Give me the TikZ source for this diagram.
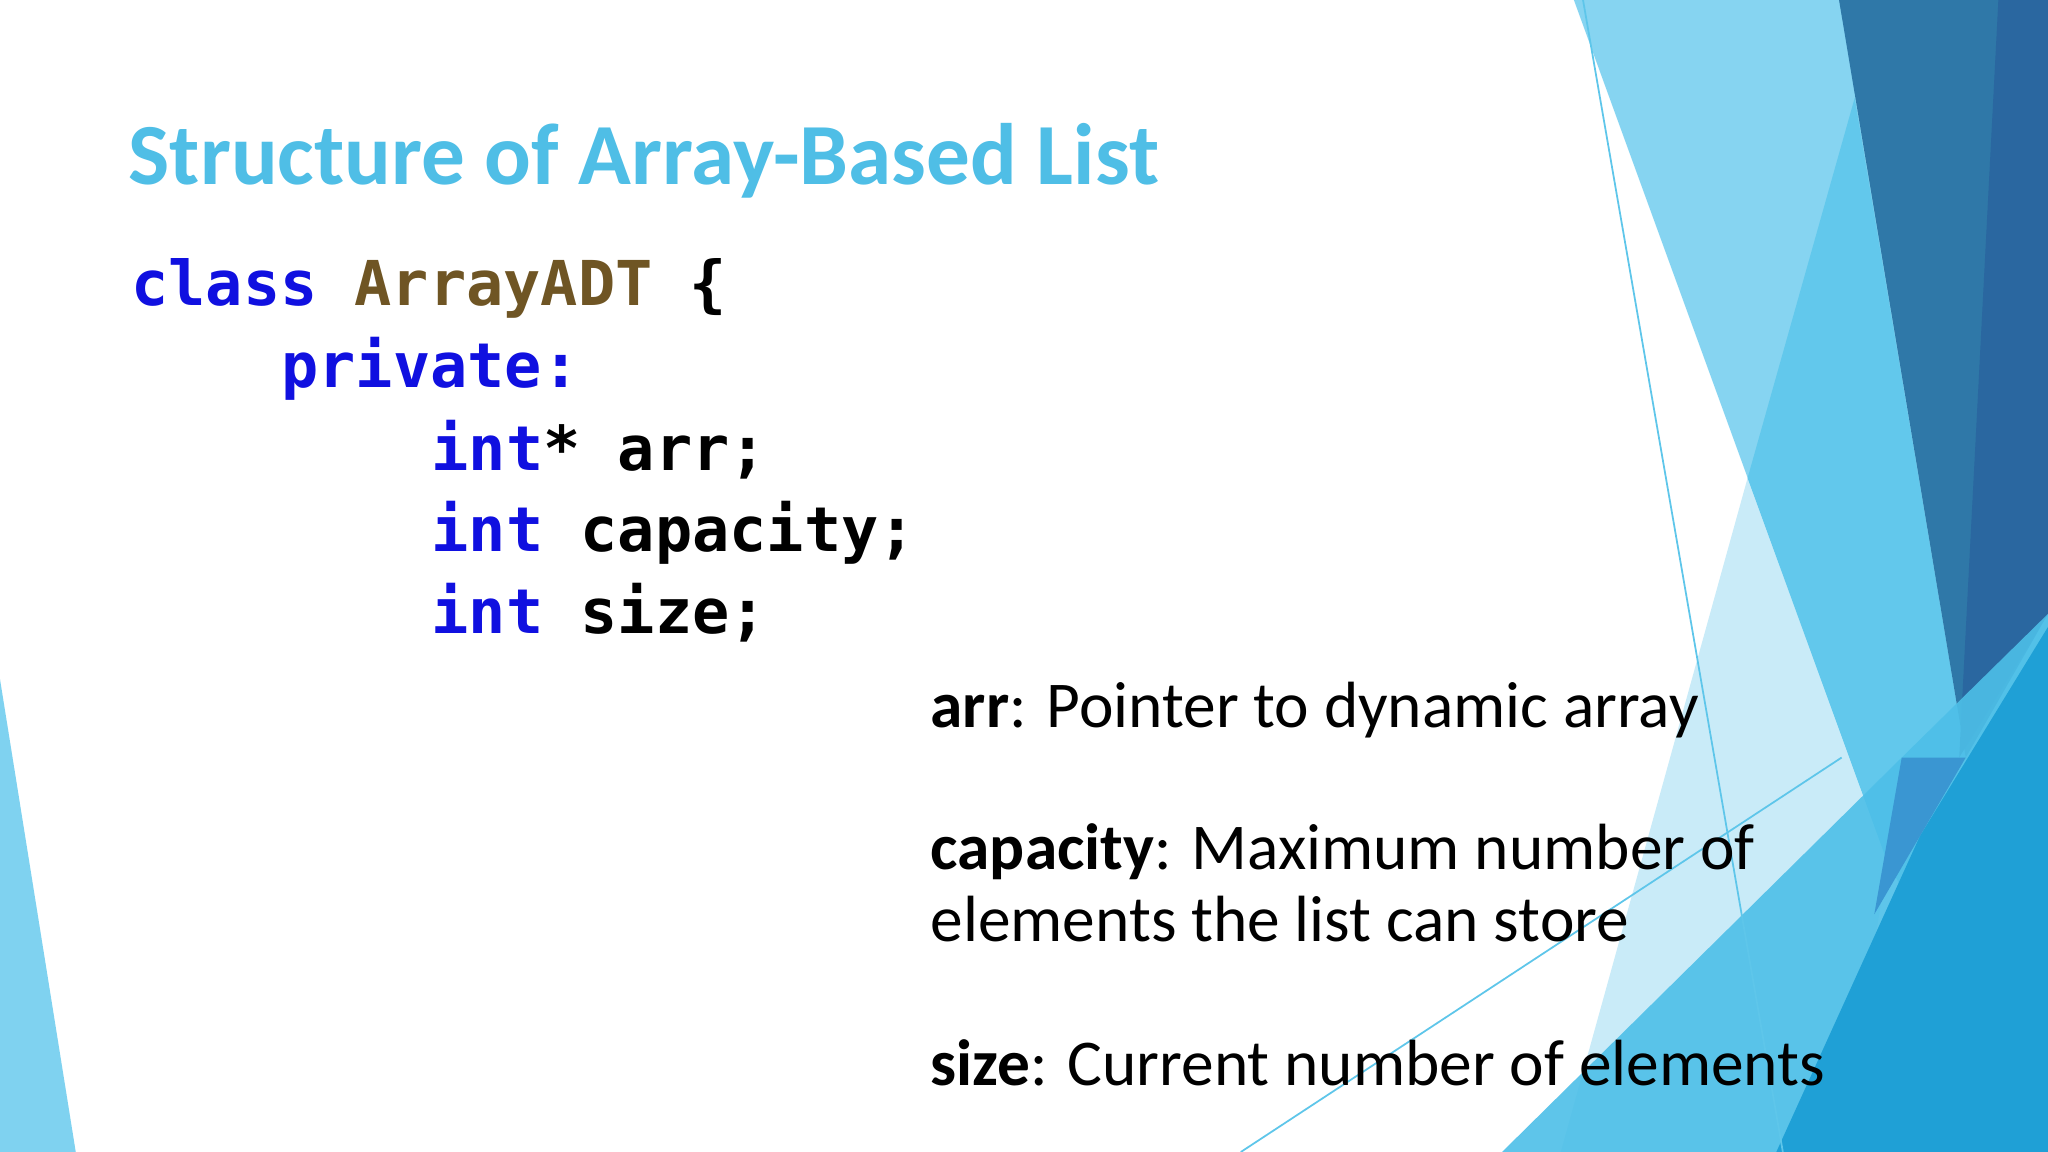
\documentclass[tikz,border=0pt]{standalone}
\usepackage{fontspec}
\setmainfont{Carlito}
\newfontfamily\codefont{DejaVu Sans Mono}
\definecolor{titleblue}{HTML}{4FBEE6}
\definecolor{kw}{HTML}{1010E0}
\definecolor{cls}{HTML}{6F5524}
\definecolor{cA}{RGB}{134,212,241}
\definecolor{cB}{RGB}{201,235,248}
\definecolor{cC}{RGB}{98,200,236}
\definecolor{cD}{RGB}{47,120,168}
\definecolor{cE}{RGB}{42,103,160}
\definecolor{cF}{RGB}{77,191,232}
\definecolor{cG}{RGB}{31,160,214}
\definecolor{cH}{RGB}{58,150,210}
\definecolor{cL}{RGB}{94,198,234}
\definecolor{cK}{RGB}{127,210,240}
\begin{document}
\begin{tikzpicture}[x=0.01306cm,y=-0.01306cm,
  code/.style={anchor=base west,inner sep=0pt,font=\codefont\bfseries\fontsize{17.6}{20}\selectfont},
  desc/.style={anchor=base west,inner sep=0pt,align=left,font=\fontsize{18.6}{22}\selectfont},
  thinline/.style={draw=cL,line width=0.5pt}]
\useasboundingbox (0,0) rectangle (1568,882);
\fill[white] (0,0) rectangle (1568,882);
% decorations
\fill[cA] (1205,0)--(1568,0)--(1568,882)--(1445,660)--cycle;
\fill[cB] (1338,366)--(1445,660)--(1410,882)--(1195,882)--cycle;
\fill[cC] (1420,75)--(1505,580)--(1445,660)--(1338,366)--cycle;
\fill[cD] (1408,0)--(1568,0)--(1568,470)--(1505,580)--cycle;
\fill[cE] (1530,0)--(1568,0)--(1568,470)--(1500,580)--cycle;
\fill[cF,opacity=0.9] (1150,882)--(1456,580)--(1568,470)--(1568,882)--cycle;
\fill[cG] (1360,882)--(1470,640)--(1568,480)--(1568,882)--cycle;
\fill[cH] (1456,580)--(1505,580)--(1470,640)--(1435,700)--cycle;
\draw[thinline] (1212,0)--(1365,882);
\draw[thinline] (950,882)--(1410,580);
\fill[cK] (0,520)--(58,882)--(0,882)--cycle;
% title
\node[anchor=base west,inner sep=0pt,text=titleblue,font=\bfseries\fontsize{24.8}{28}\selectfont] (title) at (98,141) {Structure of Array-Based List};
% code
\node[code] (l1) at (100,234) {\textcolor{kw}{class} \textcolor{cls}{ArrayADT} \{};
\node[code] (l2) at (215,297) {\textcolor{kw}{private:}};
\node[code] (l3) at (330,360) {\textcolor{kw}{int}* arr;};
\node[code] (l4) at (330,422) {\textcolor{kw}{int} capacity;};
\node[code] (l5) at (330,485) {\textcolor{kw}{int} size;};
% descriptions
\node[desc] (d1) at (712,557) {\textbf{arr}: Pointer to dynamic array};
\node[desc] (d2) at (712,666) {\textbf{capacity}: Maximum number of};
\node[desc] (d3) at (712,721) {elements the list can store};
\node[desc] (d4) at (712,831) {\textbf{size}: Current number of elements};
\end{tikzpicture}
\end{document}
